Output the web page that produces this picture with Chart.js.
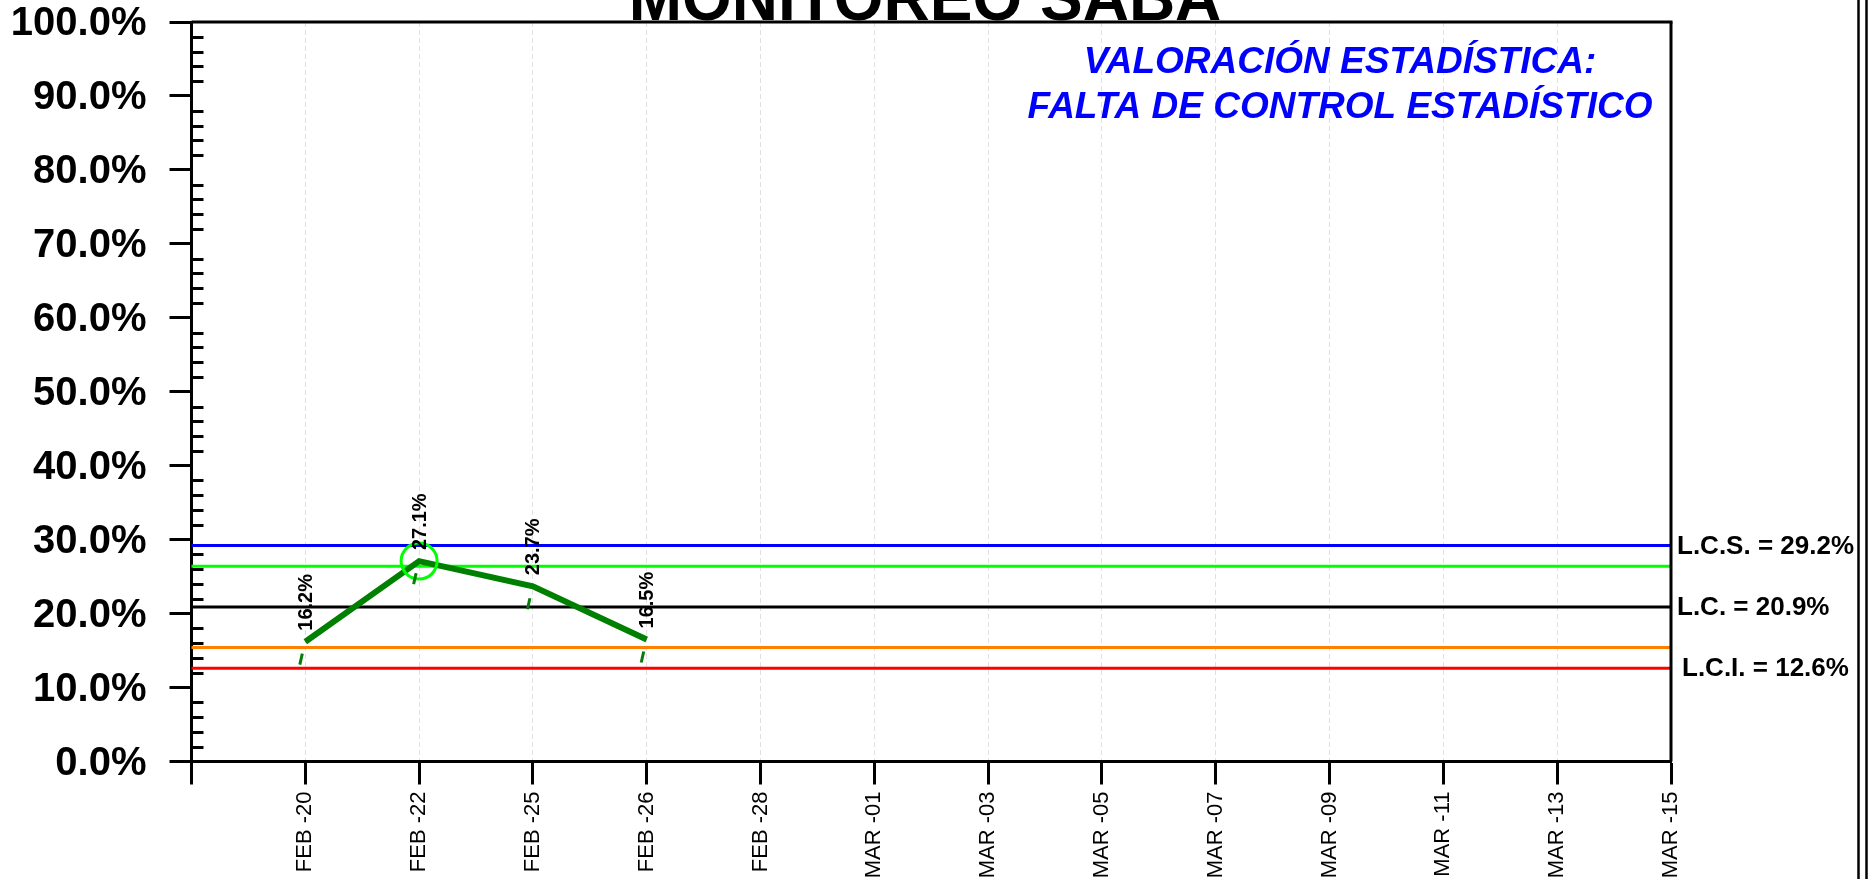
<!DOCTYPE html>
<html>
<head>
<meta charset="utf-8">
<script src="https://cdn.jsdelivr.net/npm/chart.js@4.4.1/dist/chart.umd.min.js"></script>
<style>
html, body { margin: 0; padding: 0; background: #fff; }
#grafica { display: block; }
</style>
</head>
<body>
<canvas id="grafica" width="1875" height="879"></canvas>
<script>
// Monitoreo SABA — grafica de control p
const fechas = ['FEB -20', 'FEB -22', 'FEB -25', 'FEB -26', 'FEB -28', 'MAR -01', 'MAR -03',
    'MAR -05', 'MAR -07', 'MAR -09', 'MAR -11', 'MAR -13', 'MAR -15'];
const porcentajes = [16.2, 27.1, 23.7, 16.5];
const limites = [29.2, 26.4, 20.9, 15.4, 12.6];
const coloresLimites = ['#0000ff', '#00ff00', '#000000', '#ff8000', '#ff0000'];
const nombresLimites = ['L.C.S.', null, 'L.C.', null, 'L.C.I.'];
const titulo = 'MONITOREO SABA';
const valoracion = ['VALORACIÓN ESTADÍSTICA:', 'FALTA DE CONTROL ESTADÍSTICO'];

const FUENTE = "'Liberation Sans', Arial, sans-serif";
const zonaSuperior = limites[1];

// primer hueco vacio en el eje x, como en la hoja original
const etiquetasX = [''].concat(fechas);
const datosSerie = [null].concat(porcentajes);

function linea(ctx, x1, y1, x2, y2) {
    ctx.beginPath(); ctx.moveTo(x1, y1); ctx.lineTo(x2, y2); ctx.stroke();
}

const decoracion = {
    id: 'decoracion',
    beforeDatasetsDraw(chart) {
        const { ctx, chartArea: a, scales: { y } } = chart;
        ctx.save();
        // ticks menores hacia adentro
        ctx.strokeStyle = '#000'; ctx.lineWidth = 3;
        for (let v = 2; v < 100; v += 2) {
            if (v % 10 === 0) continue;
            const py = Math.round(y.getPixelForValue(v)) + 0.5;
            linea(ctx, a.left, py, a.left + 12, py);
        }
        // limites de control
        limites.forEach((v, i) => {
            const py = y.getPixelForValue(v);
            ctx.strokeStyle = coloresLimites[i]; ctx.lineWidth = 3;
            linea(ctx, a.left, py, a.right, py);
            if (nombresLimites[i]) {
                ctx.fillStyle = '#000';
                ctx.font = 'bold 26px ' + FUENTE;
                ctx.textAlign = 'left'; ctx.textBaseline = 'middle';
                const dx = i === 4 ? 11 : 6;
                ctx.fillText(nombresLimites[i] + ' = ' + v.toFixed(1) + '%', a.right + dx, py + 1);
            }
        });
        ctx.restore();
    },
    afterDatasetsDraw(chart) {
        const { ctx } = chart;
        const meta = chart.getDatasetMeta(0);
        ctx.save();
        meta.data.forEach((pt, i) => {
            const v = datosSerie[i];
            if (v === null || pt.skip) return;
            // marca corta bajo el punto
            ctx.strokeStyle = '#0a7a0a'; ctx.lineWidth = 3;
            linea(ctx, pt.x - 3, pt.y + 12, pt.x - 5.5, pt.y + 23);
            // etiqueta vertical
            ctx.save();
            ctx.translate(pt.x, pt.y - 11);
            ctx.rotate(-Math.PI / 2);
            ctx.fillStyle = '#000';
            ctx.font = 'bold 20px ' + FUENTE;
            ctx.textAlign = 'left'; ctx.textBaseline = 'middle';
            ctx.fillText(v.toFixed(1) + '%', 0, 1);
            ctx.restore();
        });
        ctx.restore();
    },
    afterDraw(chart) {
        const { ctx, chartArea: a } = chart;
        ctx.save();
        // marco superior y derecho
        ctx.strokeStyle = '#000'; ctx.lineWidth = 3;
        linea(ctx, a.left, a.top, a.right + 1.5, a.top);
        linea(ctx, a.right, a.top, a.right, a.bottom);
        // titulo (cortado arriba)
        ctx.fillStyle = '#000';
        ctx.font = 'bold 64px ' + FUENTE;
        ctx.textAlign = 'center'; ctx.textBaseline = 'alphabetic';
        ctx.fillText(titulo, 925, 20);
        // valoracion
        ctx.fillStyle = '#0000ff';
        ctx.font = 'italic bold 37px ' + FUENTE;
        ctx.fillText(valoracion[0], a.right - 331, 73);
        ctx.fillText(valoracion[1], a.right - 331, 118);
        // doble borde a la derecha
        ctx.strokeStyle = '#000'; ctx.lineWidth = 2.5;
        linea(ctx, 1858.5, 0, 1858.5, chart.height);
        linea(ctx, 1866.5, 0, 1866.5, chart.height);
        ctx.restore();
    }
};

new Chart(document.getElementById('grafica'), {
    type: 'line',
    data: {
        labels: etiquetasX,
        datasets: [{
            label: 'Porcentaje',
            data: datosSerie,
            borderColor: '#008000',
            borderWidth: 6,
            fill: false,
            tension: 0,
            spanGaps: false,
            pointStyle: 'circle',
            pointRadius: c => (c.raw !== null && c.raw > zonaSuperior) ? 18 : 0,
            pointBorderColor: '#00ff00',
            pointBorderWidth: 3,
            pointBackgroundColor: 'rgba(0,0,0,0)'
        }]
    },
    options: {
        responsive: false,
        animation: false,
        layout: { padding: { left: 0, top: 22, right: 204, bottom: 0 } },
        plugins: { legend: { display: false }, tooltip: { enabled: false }, title: { display: false } },
        scales: {
            x: {
                type: 'category',
                offset: false,
                afterFit: s => { s.height = 117.5; },
                grid: {
                    display: true, drawOnChartArea: true, drawTicks: true,
                    color: '#e0e0e0', lineWidth: 1,
                    tickLength: 23, tickColor: '#000', tickWidth: 3
                },
                border: { display: true, color: '#000', width: 3, dash: [5, 3] },
                ticks: {
                    autoSkip: false, minRotation: 90, maxRotation: 90, padding: 7,
                    color: '#000', font: { family: FUENTE, size: 22 }
                }
            },
            y: {
                min: 0, max: 100,
                afterFit: s => { s.width = 191.5; s.paddingTop = 0; s.paddingBottom = 0; },
                grid: {
                    display: true, drawOnChartArea: false, drawTicks: true,
                    tickLength: 22, tickColor: '#000', tickWidth: 3
                },
                border: { display: true, color: '#000', width: 3 },
                ticks: {
                    stepSize: 10, padding: 23, color: '#000', labelOffset: 2,
                    font: { family: FUENTE, size: 40, weight: 'bold', lineHeight: 1 },
                    callback: v => v.toFixed(1) + '%'
                }
            }
        }
    },
    plugins: [decoracion]
});
</script>
</body>
</html>
